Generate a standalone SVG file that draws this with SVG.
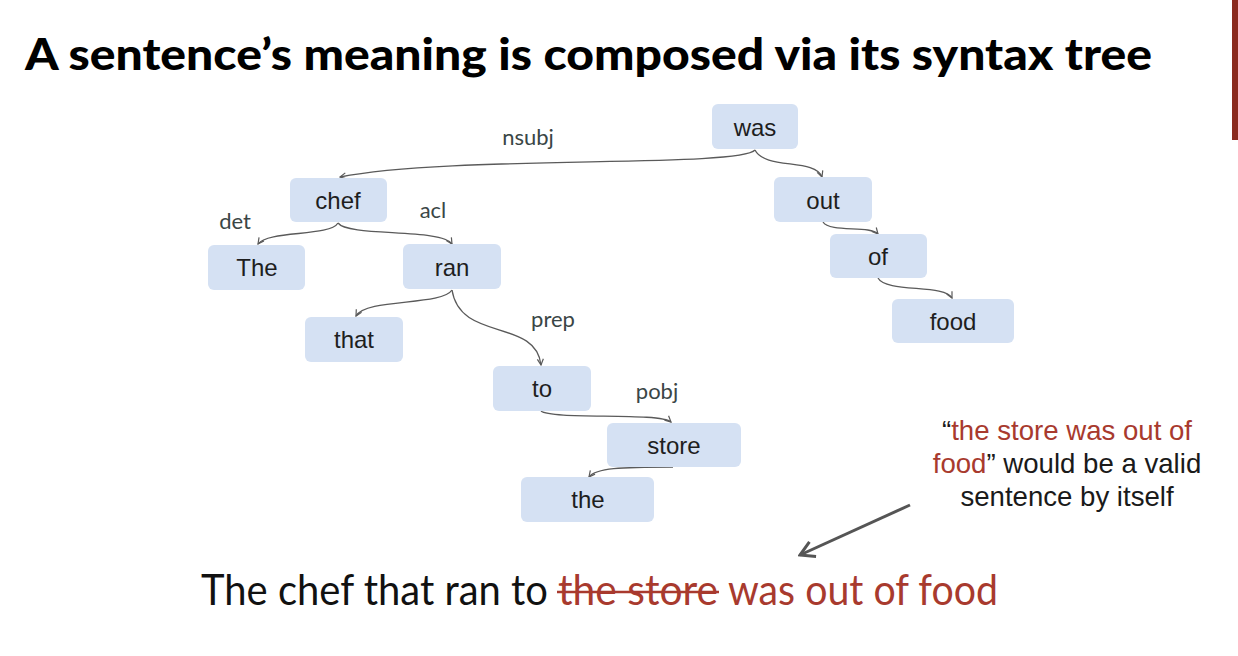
<svg xmlns="http://www.w3.org/2000/svg" width="1238" height="656" viewBox="0 0 1238 656">
<defs>
<style>
.node rect{fill:#d5e1f3;}
.node text{font-family:"Liberation Sans",Arial,sans-serif;font-size:24px;fill:#1e1e1e;text-anchor:middle;}
.edge{fill:none;stroke:#5a5a5a;stroke-width:1.3;marker-end:url(#ah);}
.lbl{font-family:Lato,"Open Sans",sans-serif;font-size:22px;fill:#3a4646;text-anchor:middle;}
.note{font-family:"Liberation Sans",Arial,sans-serif;font-size:27.6px;fill:#1a1a1a;text-anchor:middle;}
.red{fill:#a83a2e;}
.sent{font-family:Lato,"Open Sans",sans-serif;font-size:42px;}
</style>
<marker id="ah" viewBox="0 0 8 8" refX="7" refY="4" markerWidth="8" markerHeight="8" markerUnits="userSpaceOnUse" orient="auto">
<path d="M1,1 L7,4 L1,7" fill="none" stroke="#5a5a5a" stroke-width="1.2"/>
</marker>
<marker id="big" viewBox="0 0 20 20" refX="18" refY="10" markerWidth="20" markerHeight="20" markerUnits="userSpaceOnUse" orient="auto">
<path d="M4,2 L18,10 L4,18" fill="none" stroke="#555" stroke-width="3" stroke-linejoin="miter"/>
</marker>
</defs>
<rect width="1238" height="656" fill="#ffffff"/>
<rect x="1232" y="0" width="6" height="140" fill="#8b2a1e"/>
<text x="25" y="70" font-family="Lato,'Open Sans',sans-serif" font-weight="900" font-size="44" fill="#000" textLength="1127" lengthAdjust="spacingAndGlyphs">A sentence’s meaning is composed via its syntax tree</text>

<g id="connectors">
<path class="edge" d="M755,150 C740,168 450,155 340,177"/>
<path class="edge" d="M755,150 C765,170 815,158 822,177"/>
<path class="edge" d="M338,223 C330,237 268,230 258,244"/>
<path class="edge" d="M338,223 C348,237 442,228 452,244"/>
<path class="edge" d="M452,290 C442,306 366,298 356,316"/>
<path class="edge" d="M452,290 C460,342 536,318 541,365"/>
<path class="edge" d="M541,411 C552,420 660,412 671,422"/>
<path class="edge" d="M673,467 C620,467 596,468 589,477"/>
<path class="edge" d="M823,222 C830,233 870,225 878,234"/>
<path class="edge" d="M878,278 C886,293 945,284 952,298"/>
<path d="M910,505 L800,555" fill="none" stroke="#555" stroke-width="3" marker-end="url(#big)"/>
</g>

<g id="edge-labels">
<text class="lbl" x="528" y="145">nsubj</text>
<text class="lbl" x="235" y="229">det</text>
<text class="lbl" x="433" y="218">acl</text>
<text class="lbl" x="553" y="327">prep</text>
<text class="lbl" x="657" y="399">pobj</text>
</g>

<g id="n-was" class="node"><rect x="712" y="104" width="86" height="45" rx="6"/><text x="755" y="136">was</text></g>
<g id="n-chef" class="node"><rect x="290" y="178" width="97" height="44" rx="6"/><text x="338" y="209">chef</text></g>
<g id="n-out" class="node"><rect x="774" y="177" width="98" height="45" rx="6"/><text x="823" y="209">out</text></g>
<g id="n-The" class="node"><rect x="208" y="245" width="97" height="45" rx="6"/><text x="257" y="276">The</text></g>
<g id="n-ran" class="node"><rect x="403" y="244" width="98" height="45" rx="6"/><text x="452" y="276">ran</text></g>
<g id="n-of" class="node"><rect x="830" y="234" width="97" height="44" rx="6"/><text x="878" y="265">of</text></g>
<g id="n-food" class="node"><rect x="892" y="299" width="122" height="44" rx="6"/><text x="953" y="330">food</text></g>
<g id="n-that" class="node"><rect x="305" y="317" width="98" height="45" rx="6"/><text x="354" y="348">that</text></g>
<g id="n-to" class="node"><rect x="493" y="366" width="98" height="45" rx="6"/><text x="542" y="397">to</text></g>
<g id="n-store" class="node"><rect x="607" y="423" width="134" height="44" rx="6"/><text x="674" y="454">store</text></g>
<g id="n-the" class="node"><rect x="521" y="477" width="133" height="45" rx="6"/><text x="588" y="508">the</text></g>

<g id="note">
<text class="note" x="1067" y="440"><tspan fill="#1a1a1a">“</tspan><tspan class="red">the store was out of</tspan></text>
<text class="note" x="1067" y="473"><tspan class="red">food</tspan>” would be a valid</text>
<text class="note" x="1067" y="506">sentence by itself</text>
</g>

<g id="sentence">
<text class="sent" x="201" y="605" fill="#111" textLength="347" lengthAdjust="spacingAndGlyphs">The chef that ran to</text>
<text class="sent red" x="558" y="605" textLength="160" lengthAdjust="spacingAndGlyphs">the store</text>
<line x1="557" y1="592" x2="719" y2="592" stroke="#a83a2e" stroke-width="2.5"/>
<text class="sent red" x="728" y="605" textLength="270" lengthAdjust="spacingAndGlyphs">was out of food</text>
</g>
</svg>
